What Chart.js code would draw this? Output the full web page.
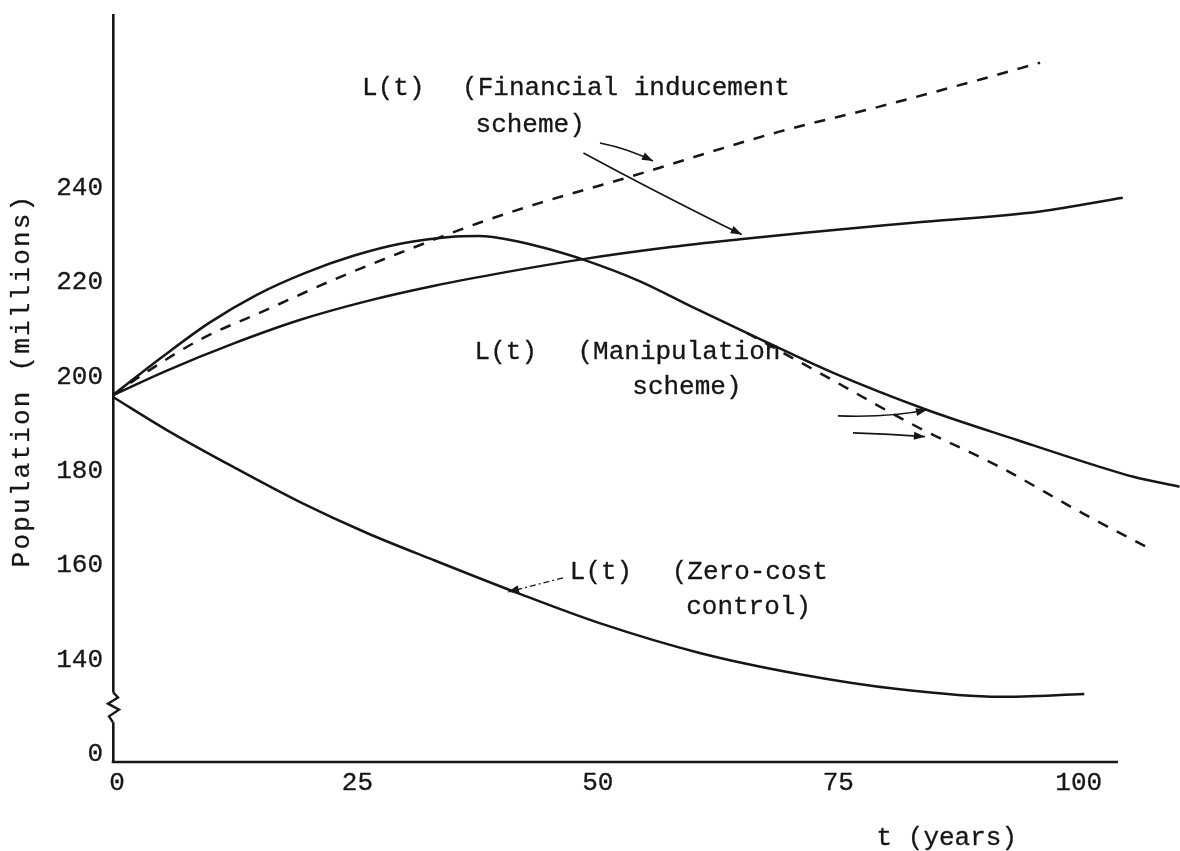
<!DOCTYPE html>
<html>
<head>
<meta charset="utf-8">
<script src="https://cdn.jsdelivr.net/npm/chart.js@4/dist/chart.umd.min.js"></script>
<style>
  html, body { margin: 0; padding: 0; background: #fff; }
  #wrap { width: 1180px; height: 851px; }
</style>
</head>
<body>
<div id="wrap"><canvas id="c" width="1180" height="851"></canvas></div>
<script>
const FONT = '"Liberation Mono", "Courier New", monospace';
const INK = '#161616';
const INK_WEIGHT = 0.3; // light extra stroke so the typewriter text is a touch heavier

// time axis, years; the drawn axis line stops a little past 100
const xTicks = [0, 25, 50, 75, 100];
const xAxisEnd = 104.5;
// population axis, millions; the lowest tick sits under the axis break and stands for 0
const yTicks = [120, 140, 160, 180, 200, 220, 240];
const yTickLabels = ['0', '140', '160', '180', '200', '220', '240'];

// Financial inducement scheme, solid curve
const inducementSolidT = [0, 5.6, 12.5, 19.4, 26.4, 33.3, 41.0, 48.9, 58.2, 65.2, 71.4, 83.2, 96.4, 105.0];
const inducementSolidL = [196.1, 201.3, 207.0, 212.0, 216.0, 219.2, 222.2, 224.9, 227.5, 229.1, 230.4, 232.6, 235.0, 237.9];

// Financial inducement scheme, dashed curve
const inducementDashT = [0, 3.8, 9.0, 16.0, 22.9, 29.8, 38.1, 44.4, 52.7, 69.3, 79.7, 90.1, 96.4];
const inducementDashL = [196.1, 201.4, 207.8, 214.2, 220.5, 226.2, 232.6, 236.8, 241.7, 251.9, 257.2, 262.9, 266.5];

// Manipulation scheme, solid curve
const manipulationSolidT = [0, 5, 10, 15, 20, 25, 30, 35, 38, 42, 45, 48.9, 54.8, 60.0, 65.9, 74.9, 84.6, 94.0, 102.6, 106.1, 110.9];
const manipulationSolidL = [196.1, 204.0, 211.4, 217.4, 222.0, 225.6, 228.2, 229.6, 229.8, 228.7, 227.2, 224.8, 220.2, 215.0, 209.3, 200.8, 193.0, 186.6, 180.9, 178.8, 176.7];

// Manipulation scheme, dashed curve (leaves the solid one near t = 66)
const manipulationDashT = [65.9, 74.8, 83.6, 92.2, 100.8, 107.5];
const manipulationDashL = [209.3, 199.3, 189.4, 180.9, 171.1, 163.9];

// Zero-cost control
const zeroCostT = [0, 5.6, 12.5, 19.4, 26.4, 33.3, 42.3, 50.6, 61.0, 71.4, 81.8, 92.2, 101.0];
const zeroCostL = [195.7, 188.7, 180.9, 173.5, 166.9, 161.2, 154.0, 147.8, 141.5, 137.0, 133.8, 132.2, 132.8];

// curve labels, placed in data coordinates (left edge, vertical middle)
const notes = [
  { text: 'L(t)', t: 25.9, v: 261.2 },
  { text: '(Financial inducement', t: 36.3, v: 261.2 },
  { text: 'scheme)', t: 37.7, v: 253.3 },
  { text: 'L(t)', t: 37.6, v: 205.3 },
  { text: '(Manipulation', t: 48.3, v: 205.3 },
  { text: 'scheme)', t: 54.0, v: 197.8 },
  { text: 'L(t)', t: 47.5, v: 158.6 },
  { text: '(Zero-cost', t: 58.1, v: 158.6 },
  { text: 'control)', t: 59.6, v: 151.2 }
];

// pointer arrows: start, bend, tip (data coordinates)
const arrows = [
  { from: [50.64, 249.5], via: [53.55, 248.3], to: [56.15, 245.7] },
  { from: [48.92, 247.4], via: [56.36, 239.2], to: [65.38, 230.1] },
  { from: [75.39, 191.7], via: [80.79, 191.3], to: [84.64, 193.0] },
  { from: [76.95, 188.1], via: [80.79, 187.9], to: [84.43, 187.3] },
  { from: [46.79, 157.4], via: [43.9, 155.9], to: [41.07, 154.4], dash: [6, 3, 2, 3], thin: true }
];

const pts = (ts, ls) => ts.map((t, i) => ({ x: t, y: ls[i] }));

const lineStyle = {
  borderColor: INK,
  borderWidth: 2.5,
  pointRadius: 0,
  cubicInterpolationMode: 'monotone',
  fill: false,
  clip: false
};

const paper = {
  id: 'paper',
  beforeDraw(chart) {
    const c = chart.ctx;
    c.save();
    c.fillStyle = '#ffffff';
    c.fillRect(0, 0, chart.width, chart.height);
    c.restore();
  }
};

function typeText(c, text, x, y) {
  c.fillText(text, x, y);
  c.strokeText(text, x, y);
}

const annotate = {
  id: 'annotate',
  afterDraw(chart) {
    const c = chart.ctx;
    const xs = chart.scales.x, ys = chart.scales.y;
    const px = t => xs.getPixelForValue(t);
    const py = v => ys.getPixelForValue(v);
    c.save();

    // time axis line, ending just past t = 100
    c.strokeStyle = INK;
    c.lineWidth = 2.6;
    c.beginPath();
    c.moveTo(xs.left - 1.3, chart.chartArea.bottom);
    c.lineTo(px(xAxisEnd), chart.chartArea.bottom);
    c.stroke();

    // break in the population axis
    const ax = xs.left;
    const top = py(133.2), bot = py(126.8);
    c.fillStyle = '#ffffff';
    c.fillRect(ax - 4, top, 8, bot - top);
    c.lineWidth = 2.4;
    c.lineJoin = 'miter';
    c.beginPath();
    const h = bot - top;
    c.moveTo(ax, top);
    c.lineTo(ax + 5, top + h * 0.18);
    c.lineTo(ax - 5, top + h * 0.38);
    c.lineTo(ax + 6, top + h * 0.58);
    c.lineTo(ax - 4, top + h * 0.8);
    c.lineTo(ax, bot);
    c.stroke();

    // labels
    c.fillStyle = INK;
    c.strokeStyle = INK;
    c.lineWidth = INK_WEIGHT;
    c.lineJoin = 'round';
    c.font = '26px ' + FONT;
    c.textAlign = 'left';
    c.textBaseline = 'middle';
    notes.forEach(n => typeText(c, n.text, px(n.t), py(n.v)));

    // time axis title
    c.textAlign = 'center';
    typeText(c, 't (years)', px(86.7), chart.chartArea.bottom + 76);

    // population axis title, typed with a little extra letter spacing
    c.save();
    c.translate(22, (chart.chartArea.top + chart.chartArea.bottom) / 2 - 8);
    c.rotate(-Math.PI / 2);
    if ('letterSpacing' in c) c.letterSpacing = '2.2px';
    c.textAlign = 'center';
    typeText(c, 'Population (millions)', 0, 0);
    c.restore();

    // arrows
    arrows.forEach(a => {
      const x0 = px(a.from[0]), y0 = py(a.from[1]);
      const xc = px(a.via[0]), yc = py(a.via[1]);
      const x1 = px(a.to[0]), y1 = py(a.to[1]);
      c.strokeStyle = INK;
      c.lineWidth = a.thin ? 1.2 : 1.7;
      c.lineJoin = 'miter';
      c.setLineDash(a.dash || []);
      c.beginPath();
      c.moveTo(x0, y0);
      c.quadraticCurveTo(xc, yc, x1, y1);
      c.stroke();
      c.setLineDash([]);
      const ang = Math.atan2(y1 - yc, x1 - xc);
      const len = 11, half = 4;
      c.beginPath();
      c.moveTo(x1, y1);
      c.lineTo(x1 - len * Math.cos(ang) + half * Math.sin(ang), y1 - len * Math.sin(ang) - half * Math.cos(ang));
      c.lineTo(x1 - len * Math.cos(ang) - half * Math.sin(ang), y1 - len * Math.sin(ang) + half * Math.cos(ang));
      c.closePath();
      c.fillStyle = INK;
      c.fill();
    });
    c.restore();
  }
};

const tickFont = { font: { family: FONT, size: 26 }, color: INK, textStrokeColor: INK, textStrokeWidth: INK_WEIGHT };

new Chart(document.getElementById('c'), {
  type: 'line',
  data: {
    datasets: [
      Object.assign({ label: 'Financial inducement scheme (solid)', data: pts(inducementSolidT, inducementSolidL) }, lineStyle),
      Object.assign({ label: 'Financial inducement scheme (dashed)', data: pts(inducementDashT, inducementDashL), borderDash: [11, 10] }, lineStyle),
      Object.assign({ label: 'Manipulation scheme (solid)', data: pts(manipulationSolidT, manipulationSolidL) }, lineStyle),
      Object.assign({ label: 'Manipulation scheme (dashed)', data: pts(manipulationDashT, manipulationDashL), borderDash: [11, 10] }, lineStyle),
      Object.assign({ label: 'Zero-cost control', data: pts(zeroCostT, zeroCostL) }, lineStyle)
    ]
  },
  options: {
    responsive: false,
    animation: false,
    devicePixelRatio: 1,
    layout: { padding: { top: 15, right: 0, left: 0, bottom: 0 } },
    plugins: { legend: { display: false }, tooltip: { enabled: false } },
    scales: {
      x: {
        type: 'linear',
        min: 0,
        max: 110.95,
        afterBuildTicks: s => { s.ticks = xTicks.map(v => ({ value: v })); },
        afterFit: s => { s.height = 89; s.paddingLeft = 0; s.paddingRight = 0; },
        grid: { display: false, drawTicks: false },
        border: { display: false },
        ticks: Object.assign({ padding: 6, maxRotation: 0, autoSkip: false, labelOffset: 4 }, tickFont)
      },
      y: {
        type: 'linear',
        min: 118.4,
        max: 276.6,
        afterBuildTicks: s => { s.ticks = yTicks.map(v => ({ value: v })); },
        afterFit: s => { s.width = 113; s.paddingTop = 0; s.paddingBottom = 0; },
        grid: { display: false, drawTicks: false },
        border: { display: true, color: INK, width: 2.6 },
        ticks: Object.assign({
          padding: 10,
          autoSkip: false,
          callback: v => yTickLabels[yTicks.indexOf(v)]
        }, tickFont)
      }
    }
  },
  plugins: [paper, annotate]
});
</script>
</body>
</html>
